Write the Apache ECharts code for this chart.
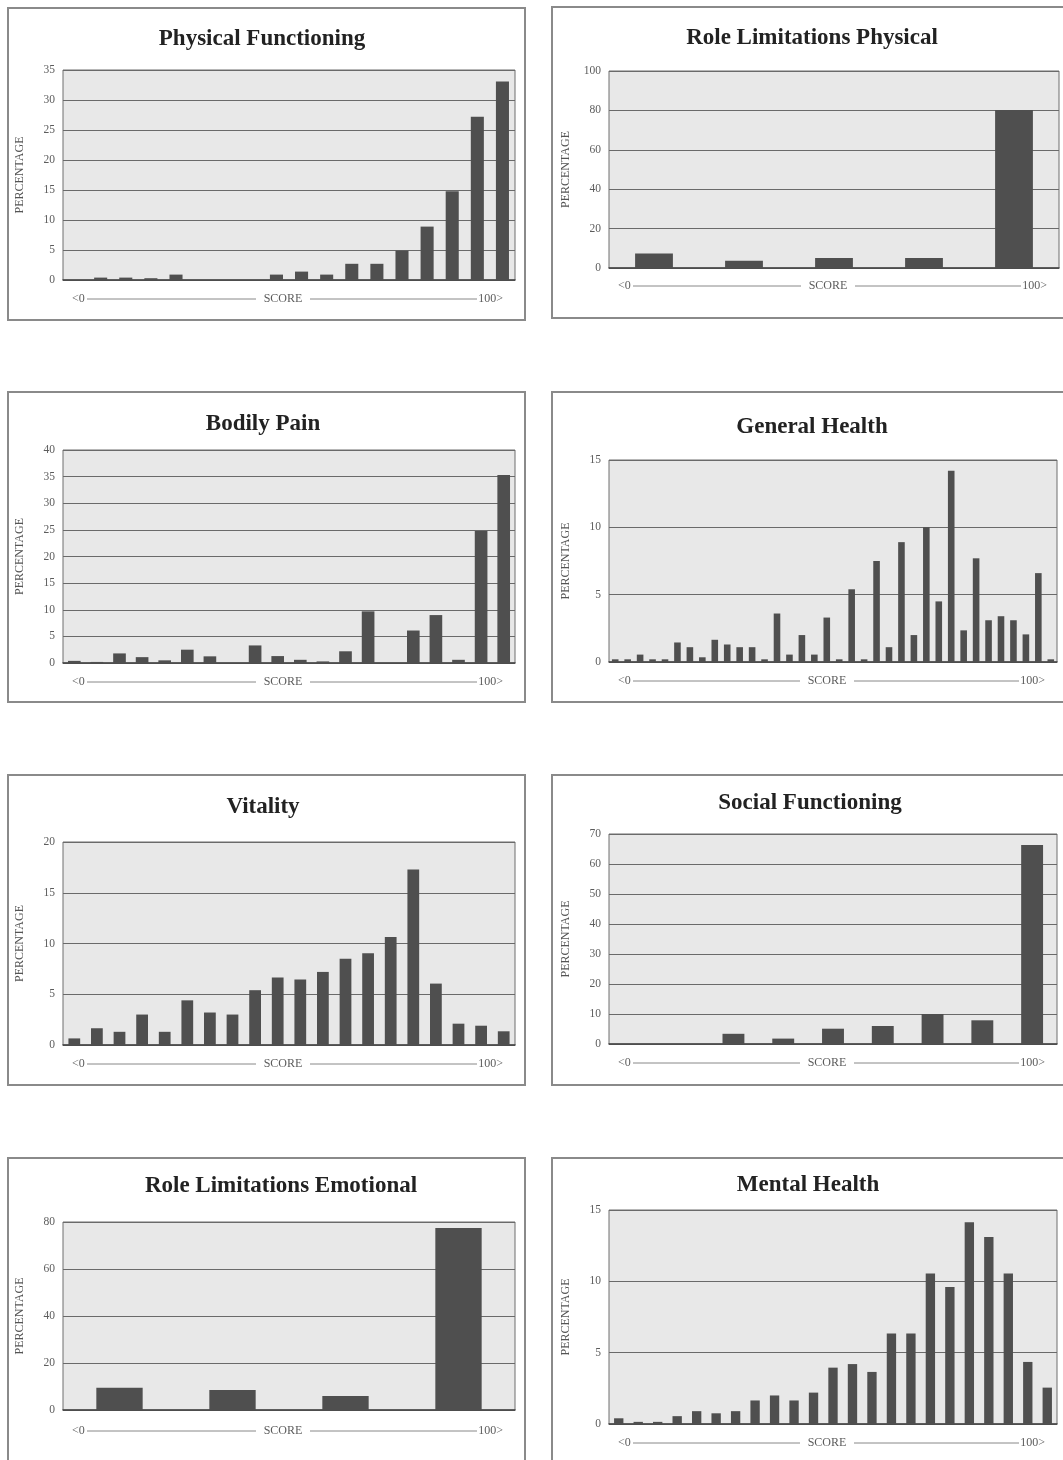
<!DOCTYPE html>
<html style="height: 100%">
<head>
<meta charset="utf-8">
<script type="text/javascript" src="https://cdn.jsdelivr.net/npm/echarts@6/dist/echarts.min.js"></script>
</head>
<body style="height: 100%; margin: 0; background: #fff">
<div id="container" style="width: 1063px; height: 1460px"></div>
<script type="text/javascript">
// percentage of respondents per score bin
var physicalFunctioning = [0, 0.4, 0.4, 0.3, 0.9, 0, 0, 0, 0.9, 1.4, 0.9, 2.7, 2.7, 4.9, 8.9, 14.8, 27.2, 33.1];
var roleLimitationsPhysical = [7.3, 3.7, 5.1, 5.1, 80.2];
var bodilyPain = [0.4, 0.2, 1.8, 1.1, 0.5, 2.5, 1.25, 0, 3.3, 1.3, 0.6, 0.3, 2.2, 9.7, 0, 6.1, 9.0, 0.6, 24.8, 35.3];
var generalHealth = [0.2, 0.2, 0.55, 0.2, 0.2, 1.45, 1.1, 0.35, 1.65, 1.3, 1.1, 1.1, 0.2, 3.6, 0.55, 2.0, 0.55, 3.3,
    0.2, 5.4, 0.2, 7.5, 1.1, 8.9, 2.0, 10.0, 4.5, 14.2, 2.35, 7.7, 3.1, 3.4, 3.1, 2.05, 6.6, 0.2];
var vitality = [0.65, 1.65, 1.3, 3.0, 1.3, 4.4, 3.2, 3.0, 5.4, 6.65, 6.45, 7.2, 8.5, 9.05, 10.65, 17.3, 6.05, 2.1, 1.9, 1.35];
var socialFunctioning = [0, 0, 3.4, 1.8, 5.1, 6.0, 10.0, 7.9, 66.3];
var roleLimitationsEmotional = [9.5, 8.5, 6.0, 77.5];
var mentalHealth = [0.4, 0.15, 0.15, 0.55, 0.9, 0.75, 0.9, 1.65, 2.0, 1.65, 2.2, 3.95, 4.2, 3.65, 6.35, 6.35,
    10.55, 9.6, 14.15, 13.1, 10.55, 4.35, 2.55];

var titles = ['Physical Functioning', 'Role Limitations Physical', 'Bodily Pain', 'General Health',
    'Vitality', 'Social Functioning', 'Role Limitations Emotional', 'Mental Health'];
var series_data = [physicalFunctioning, roleLimitationsPhysical, bodilyPain, generalHealth,
    vitality, socialFunctioning, roleLimitationsEmotional, mentalHealth];
var yMax = [35, 100, 40, 15, 20, 70, 80, 15];
var yStep = [5, 20, 5, 5, 5, 10, 20, 5];

// layout of each panel: frame box, plot grid, title centre, score row
var layout = [
    {box: [8, 8, 517, 312], grid: [63, 70, 452, 210], tx: 262, ty: 39, sy: 299, bw: '52%'},
    {box: [552, 7, 520, 311], grid: [609, 71, 450, 197], tx: 812, ty: 38, sy: 286, bw: '42%'},
    {box: [8, 392, 517, 310], grid: [63, 450, 452, 213], tx: 263, ty: 424, sy: 682, bw: '56%'},
    {box: [552, 392, 520, 310], grid: [609, 460, 448, 202], tx: 812, ty: 427, sy: 681, bw: '53%'},
    {box: [8, 775, 517, 310], grid: [63, 842, 452, 203], tx: 263, ty: 807, sy: 1064, bw: '52%'},
    {box: [552, 775, 520, 310], grid: [609, 834, 448, 210], tx: 810, ty: 803, sy: 1063, bw: '44%'},
    {box: [8, 1158, 517, 320], grid: [63, 1222, 452, 188], tx: 281, ty: 1186, sy: 1431, bw: '41%'},
    {box: [552, 1158, 520, 320], grid: [609, 1210, 448, 214], tx: 808, ty: 1185, sy: 1443, bw: '48%'}
];

var serif = "'Liberation Serif', 'Times New Roman', serif";
var dom = document.getElementById('container');
var myChart = echarts.init(dom);

var grids = [], xAxes = [], yAxes = [], series = [], graphics = [];
layout.forEach(function (p, i) {
    grids.push({
        left: p.grid[0], top: p.grid[1], width: p.grid[2], height: p.grid[3],
        show: true, backgroundColor: '#e8e8e8', borderColor: '#6f6f6f', borderWidth: 1
    });
    xAxes.push({
        type: 'category', gridIndex: i,
        data: series_data[i].map(function (v, k) { return k; }),
        axisLabel: {show: false}, axisTick: {show: false},
        axisLine: {lineStyle: {color: '#444', width: 1.5}}
    });
    yAxes.push({
        type: 'value', gridIndex: i, min: 0, max: yMax[i], interval: yStep[i],
        name: 'PERCENTAGE', nameLocation: 'middle', nameRotate: 90, nameGap: 37,
        nameTextStyle: {fontFamily: serif, fontSize: 12, color: '#555'},
        axisLine: {show: false}, axisTick: {show: false},
        axisLabel: {fontFamily: serif, fontSize: 11.5, color: '#5c5c5c', margin: 8},
        splitLine: {lineStyle: {color: '#6a6a6a', width: 1}}
    });
    series.push({
        type: 'bar', xAxisIndex: i, yAxisIndex: i, data: series_data[i],
        barWidth: p.bw, itemStyle: {color: '#4f4f4f'}, silent: true
    });

    // panel frame
    graphics.push({
        type: 'rect', shape: {x: p.box[0], y: p.box[1], width: p.box[2], height: p.box[3]},
        style: {fill: 'none', stroke: '#8a8a8a', lineWidth: 2}
    });
    // title
    graphics.push({
        type: 'text', x: p.tx, y: p.ty,
        style: {text: titles[i], font: 'bold 23px ' + serif, fill: '#222', align: 'center', verticalAlign: 'middle'}
    });
    // "<0 ---- SCORE ---- 100>" row under the plot
    var gl = p.grid[0], gr = p.grid[0] + p.grid[2], gc = (gl + gr) / 2;
    var rowStyle = {font: '12px ' + serif, fill: '#5c5c5c', verticalAlign: 'middle'};
    graphics.push({type: 'text', x: gl + 9, y: p.sy, style: Object.assign({text: '<0', align: 'left'}, rowStyle)});
    graphics.push({type: 'text', x: gc - 6, y: p.sy, style: Object.assign({text: 'SCORE', align: 'center'}, rowStyle)});
    graphics.push({type: 'text', x: gr - 12, y: p.sy, style: Object.assign({text: '100>', align: 'right'}, rowStyle)});
    graphics.push({type: 'line', shape: {x1: gl + 24, y1: p.sy, x2: gc - 33, y2: p.sy}, style: {stroke: '#888', lineWidth: 1}});
    graphics.push({type: 'line', shape: {x1: gc + 21, y1: p.sy, x2: gr - 38, y2: p.sy}, style: {stroke: '#888', lineWidth: 1}});
});

var option = {
    backgroundColor: '#fff',
    animation: false,
    grid: grids,
    xAxis: xAxes,
    yAxis: yAxes,
    series: series,
    graphic: graphics
};
myChart.setOption(option);
</script>
</body>
</html>
